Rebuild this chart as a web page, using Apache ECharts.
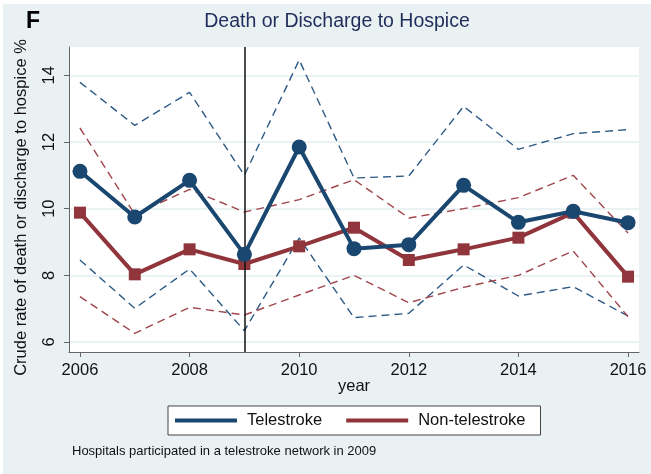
<!DOCTYPE html>
<html>
<head>
<meta charset="utf-8">
<script src="https://cdn.jsdelivr.net/npm/echarts@6/dist/echarts.min.js"></script>
<style>html,body{margin:0;padding:0;background:#fff}#c{width:651px;height:474px}</style>
</head>
<body>
<div id="c"></div>
<script>
var years = [2006,2007,2008,2009,2010,2011,2012,2013,2014,2015,2016];
var teleRate  = [11.12,9.75,10.85,8.63,11.85,8.80,8.92,10.70,9.59,9.92,9.58];
var teleUpper = [13.79,12.50,13.49,11.00,14.46,10.92,10.98,13.07,11.78,12.25,12.37];
var teleLower = [8.46,7.01,8.19,6.34,9.12,6.73,6.86,8.31,7.38,7.66,6.78];
var nonRate   = [9.88,8.03,8.78,8.34,8.87,9.43,8.46,8.78,9.13,9.88,7.96];
var nonUpper  = [12.42,9.83,10.58,9.90,10.27,10.87,9.72,10.00,10.33,11.00,9.27];
var nonLower  = [7.36,6.26,7.04,6.81,7.41,8.00,7.18,7.64,8.00,8.73,6.76];
var xTicks = [2006,2008,2010,2012,2014,2016];
var yTicks = [6,8,10,12,14];
var startYear = 2009;

var BLUE = '#1a476f', RED = '#90353b';
function pairs(v){ return years.map(function(y,i){ return [y, v[i]]; }); }
var FONT = 'Liberation Sans, Arial, sans-serif';

function ci(name, data, color){
  return { name: name, type: 'line', data: pairs(data), symbol: 'none', silent: true,
    lineStyle: { color: color, width: 1.4, type: [8,5] }, z: 2 };
}

var chart = echarts.init(document.getElementById('c'));
chart.setOption({
  animation: false,
  backgroundColor: '#ffffff',
  graphic: [
    { type: 'rect', shape: { x: 3, y: 4, width: 648, height: 470 }, style: { fill: '#eaf1f3' }, z: -100 },
    { type: 'text', left: 26, top: 10, style: { text: 'F', font: 'bold 23px ' + FONT, fill: '#000' } },
    { type: 'text', x: 337, y: 22, style: { text: 'Death or Discharge to Hospice', font: '19.5px ' + FONT, fill: '#1e2d5c', align: 'center', verticalAlign: 'middle' } },
    { type: 'text', x: 21, y: 207.5, rotation: Math.PI / 2, style: { text: 'Crude rate of death or discharge to hospice %', font: '16.5px ' + FONT, fill: '#111', align: 'center', verticalAlign: 'middle' } },
    { type: 'text', x: 72, y: 451, style: { text: 'Hospitals participated in a telestroke network in 2009', font: '13px ' + FONT, fill: '#111', verticalAlign: 'middle' } }
  ],
  grid: { left: 69, top: 47, right: 12, bottom: 122, show: true, backgroundColor: '#ffffff', borderWidth: 0 },
  legend: {
    data: ['Telestroke', 'Non-telestroke'],
    left: 168, top: 406,
    backgroundColor: '#ffffff', borderColor: '#444', borderWidth: 1,
    padding: [6, 15, 6, 7],
    itemWidth: 62, itemHeight: 4, itemGap: 24,
    icon: 'rect',
    textStyle: { fontSize: 16.5, fontFamily: FONT, color: '#111', padding: [0,0,0,5] }
  },
  xAxis: {
    type: 'value', min: 2005.8, max: 2016.2,
    name: 'year', nameLocation: 'middle', nameGap: 26, nameMoveOverlap: false,
    nameTextStyle: { fontSize: 16.5, fontFamily: FONT, color: '#111' },
    axisLine: { show: true, lineStyle: { color: '#666', width: 1 } },
    axisTick: { show: true, length: 5, customValues: xTicks, lineStyle: { color: '#666' } },
    axisLabel: { customValues: xTicks, fontSize: 16.5, fontFamily: FONT, color: '#111', margin: 10,
      formatter: function (v) { return String(v); } },
    splitLine: { show: false }
  },
  yAxis: {
    type: 'value', min: 5.7, max: 14.85,
    axisLine: { show: true, lineStyle: { color: '#666', width: 1 } },
    axisTick: { show: true, length: 5, customValues: yTicks, lineStyle: { color: '#666' } },
    axisLabel: { customValues: yTicks, rotate: 90, fontSize: 16.5, fontFamily: FONT, color: '#111', margin: 11 },
    splitLine: { show: true, lineStyle: { color: '#e4eef1', width: 1.5 } }
  },
  series: [
    ci('teleUpper', teleUpper, '#2c5a85'),
    ci('teleLower', teleLower, '#2c5a85'),
    ci('nonUpper', nonUpper, '#a0454b'),
    ci('nonLower', nonLower, '#a0454b'),
    { name: 'Non-telestroke', type: 'line', data: pairs(nonRate), symbol: 'rect', symbolSize: 12,
      itemStyle: { color: RED }, lineStyle: { color: RED, width: 4 }, z: 4 },
    { name: 'Telestroke', type: 'line', data: pairs(teleRate), symbol: 'circle', symbolSize: 15,
      itemStyle: { color: BLUE }, lineStyle: { color: BLUE, width: 4 }, z: 5,
      markLine: { silent: true, symbol: 'none', label: { show: false },
        lineStyle: { color: '#111', width: 1.5, type: 'solid' },
        data: [{ xAxis: startYear }] } }
  ]
});
</script>
</body>
</html>
